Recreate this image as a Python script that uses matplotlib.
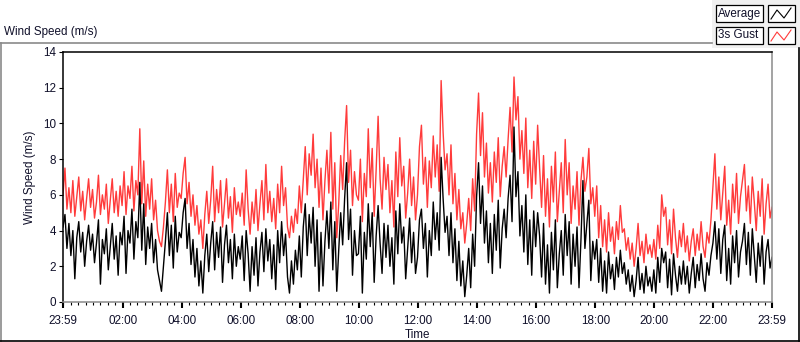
"""
Wind speed chart: 1-minute averages and 3 s gusts over one day (LabVIEW style).
"""

import numpy as np
import matplotlib.pyplot as plt
from matplotlib.patches import Rectangle
from matplotlib.lines import Line2D

plt.rcParams['font.family'] = ['Liberation Sans', 'DejaVu Sans']

# Samples every 4 minutes starting at 23:59, one row per hour
gust = [
    6.0, 7.5, 5.2, 6.4, 5.0, 6.8, 4.8, 5.9, 7.0, 5.1, 6.2, 4.6, 5.8, 6.9, 5.3,
    6.3, 4.7, 5.6, 7.1, 4.9, 6.0, 5.2, 6.6, 4.4, 5.7, 6.9, 5.0, 6.2, 4.8, 6.5,
    5.4, 7.3, 4.9, 6.5, 5.8, 7.6, 5.1, 6.8, 6.0, 9.7, 5.5, 7.9, 4.8, 6.6, 5.2,
    6.9, 4.6, 5.7, 4.0, 3.4, 3.1, 4.2, 5.6, 7.4, 5.0, 6.6, 4.5, 7.2, 5.3, 6.1,
    5.8, 7.2, 8.1, 5.5, 6.7, 4.8, 6.0, 4.3, 5.4, 3.8, 4.6, 3.0, 4.9, 6.2, 4.4,
    5.7, 7.6, 4.5, 6.3, 5.0, 6.8, 4.2, 5.5, 6.9, 4.7, 5.9, 3.9, 6.4, 4.9, 5.6,
    4.8, 6.1, 4.3, 7.4, 5.2, 3.8, 5.6, 4.4, 6.3, 4.0, 5.5, 6.8, 4.6, 7.7, 5.0,
    6.2, 4.5, 5.8, 4.1, 6.6, 5.0, 7.6, 5.4, 6.4, 4.2, 3.6, 4.8, 3.9, 5.2, 4.4,
    6.5, 5.0, 6.9, 8.7, 6.0, 8.3, 7.1, 9.4, 6.4, 8.0, 5.3, 7.5, 4.6, 6.8, 8.5,
    6.1, 9.5, 5.2, 7.8, 3.6, 5.5, 8.2, 6.3, 9.0, 11.0, 6.7, 8.5, 5.4, 7.3, 6.0,
    5.7, 8.0, 4.5, 7.2, 5.9, 9.7, 6.4, 8.6, 4.8, 7.4, 10.4, 6.9, 5.2, 8.1, 6.3,
    7.7, 5.0, 6.8, 4.2, 8.4, 5.9, 9.2, 6.5, 7.6, 4.7, 6.1, 8.0, 5.4, 7.0, 4.6,
    6.0, 8.7, 9.9, 6.6, 8.1, 5.3, 7.9, 6.4, 9.3, 7.0, 8.8, 6.2, 12.4, 9.5, 7.4,
    8.3, 6.0, 8.8, 5.5, 7.2, 4.6, 6.3, 4.1, 5.0, 3.3, 4.4, 5.8, 4.0, 6.9, 5.1,
    9.4, 11.7, 8.2, 10.6, 7.0, 8.9, 6.1, 7.8, 5.6, 8.4, 6.7, 9.2, 5.9, 7.6, 8.7,
    7.0, 9.1, 10.9, 8.4, 12.6, 10.2, 11.5, 8.0, 9.6, 7.2, 10.3, 6.4, 8.5, 5.8, 9.0,
    6.6, 9.9, 7.5, 5.3, 8.2, 4.8, 6.9, 4.2, 7.6, 5.6, 8.4, 4.5, 6.2, 7.8, 5.0,
    9.1, 6.0, 7.8, 4.4, 6.5, 5.2, 7.3, 4.3, 6.8, 8.1, 6.2, 7.0, 8.6, 5.5, 6.4,
    4.8, 6.5, 3.6, 5.4, 3.1, 4.6, 2.8, 5.0, 3.4, 4.2, 2.7, 4.5, 3.5, 5.4, 3.9,
    4.1, 2.9, 3.6, 2.4, 3.3, 2.0, 3.0, 4.4, 2.6, 3.4, 2.2, 3.8, 2.7, 3.2, 2.5,
    3.5, 2.4, 4.3, 3.0, 6.0, 4.8, 5.3, 3.2, 4.6, 2.7, 5.2, 3.6, 2.5, 4.0, 3.1,
    4.4, 2.8, 3.7, 2.3, 3.4, 4.1, 2.6, 3.8, 2.9, 4.5, 3.1, 2.5, 3.9, 3.3, 4.6,
    6.4, 8.3, 5.2, 7.0, 4.6, 6.1, 7.6, 4.3, 5.7, 3.8, 6.6, 5.0, 7.2, 4.4, 5.9,
    6.8, 7.7, 5.1, 6.5, 4.4, 7.0, 5.6, 4.0, 6.2, 4.8, 6.9, 3.8, 5.5, 6.6, 4.7,
    5.3,
]

average = [
    4.2, 4.9, 3.0, 4.4, 2.6, 4.0, 1.3, 3.6, 4.5, 2.8, 3.9, 2.0, 3.4, 4.3, 2.9,
    3.8, 2.2, 3.3, 4.6, 1.0, 3.5, 2.7, 4.1, 1.8, 3.1, 4.4, 2.4, 3.7, 1.5, 3.9,
    3.2, 4.8, 1.6, 4.0, 3.3, 5.2, 2.4, 4.5, 3.6, 6.7, 2.9, 5.5, 2.1, 4.2, 3.0,
    4.4, 2.2, 3.5, 1.8, 1.2, 0.6, 2.0, 3.4, 5.0, 2.6, 4.3, 1.9, 4.8, 2.8, 3.9,
    3.6, 5.0, 5.8, 3.0, 4.4, 2.1, 3.5, 1.4, 3.0, 0.9, 2.3, 0.5, 2.6, 3.8, 1.7,
    3.3, 4.5, 1.8, 3.9, 2.5, 4.2, 1.1, 3.2, 4.3, 2.2, 3.5, 1.3, 3.8, 2.0, 3.1,
    2.4, 3.7, 1.2, 4.0, 2.7, 0.6, 3.1, 1.5, 3.6, 0.9, 2.8, 3.9, 1.7, 4.1, 2.3,
    3.5, 1.3, 3.2, 0.7, 4.0, 2.2, 4.5, 2.6, 3.8, 1.4, 0.5, 2.3, 1.0, 2.9, 1.8,
    3.7, 1.4, 4.2, 5.5, 2.6, 4.9, 3.3, 5.3, 2.0, 4.6, 0.6, 3.9, 0.9, 3.4, 5.1,
    3.0, 5.6, 1.8, 4.5, 0.6, 2.9, 5.0, 3.2, 5.8, 7.8, 3.5, 5.2, 1.5, 4.0, 2.6,
    2.7, 4.8, 0.5, 3.9, 2.4, 5.5, 3.1, 5.0, 1.1, 3.7, 5.4, 3.3, 1.6, 4.4, 2.5,
    4.3, 2.0, 3.6, 1.0, 5.1, 2.7, 5.5, 3.3, 4.2, 1.3, 3.0, 4.7, 2.2, 3.9, 1.6,
    2.5, 4.6, 5.2, 3.0, 4.4, 1.4, 4.0, 2.6, 5.6, 3.5, 5.0, 2.9, 8.1, 5.8, 3.9,
    4.8, 2.6, 5.0, 2.2, 4.1, 1.2, 3.4, 0.9, 2.3, 0.3, 1.5, 3.0, 0.8, 3.8, 2.0,
    5.9, 7.8, 4.4, 6.5, 3.3, 5.1, 2.2, 4.4, 1.6, 4.9, 2.9, 5.7, 1.9, 4.1, 5.2,
    3.6, 5.8, 7.1, 4.5, 9.8, 5.9, 7.3, 3.7, 5.4, 2.8, 6.0, 2.1, 4.6, 1.5, 5.1,
    3.1, 5.0, 3.7, 1.4, 4.4, 1.0, 3.2, 0.5, 3.9, 1.8, 4.6, 0.8, 2.7, 4.0, 1.5,
    4.9, 2.6, 4.5, 1.0, 3.8, 2.0, 4.2, 0.8, 3.5, 6.8, 3.0, 4.4, 5.7, 1.2, 3.4,
    2.4, 3.5, 1.1, 3.0, 0.6, 2.3, 0.5, 2.8, 1.3, 2.1, 0.7, 2.5, 1.4, 2.9, 1.6,
    2.2, 1.0, 1.8, 0.6, 1.5, 0.3, 1.2, 2.5, 0.7, 1.6, 0.5, 2.0, 0.9, 1.4, 0.6,
    1.8, 0.5, 2.5, 1.1, 3.0, 2.2, 2.8, 0.8, 2.4, 0.4, 2.7, 1.5, 0.6, 2.0, 1.0,
    2.3, 1.0, 2.0, 0.5, 1.6, 2.5, 0.8, 2.1, 1.2, 2.7, 1.3, 0.6, 2.2, 1.5, 2.6,
    3.3, 4.5, 2.4, 4.1, 1.6, 3.5, 4.3, 1.2, 3.0, 1.0, 3.7, 2.2, 4.0, 1.4, 2.8,
    3.4, 4.4, 2.1, 3.9, 1.5, 4.1, 2.6, 1.1, 3.3, 2.0, 3.7, 1.0, 2.8, 3.5, 1.9,
    2.5,
]

step_minutes = 4
tick_labels = ['23:59', '02:00', '04:00', '06:00', '08:00', '10:00', '12:00',
               '14:00', '16:00', '18:00', '20:00', '22:00', '23:59']

W, H = 800, 342
RED = '#ff3b3b'
TXT = '#10102a'
FS = 8.4


def fx(x):
    return x / W


def fy(y):
    return 1 - y / H


fig = plt.figure(figsize=(W / 100, H / 100), dpi=100)
fig.patch.set_facecolor('white')

# outer frame lines
fig.add_artist(Line2D([fx(0), fx(712)], [fy(42.5), fy(42.5)], color='#8a8a8a', lw=1.2))
fig.add_artist(Line2D([fx(0.7), fx(0.7)], [fy(42.5), fy(341)], color='#8a8a8a', lw=1.2))
fig.add_artist(Line2D([fx(0), fx(800)], [fy(340.5), fy(340.5)], color='black', lw=1.2))
fig.add_artist(Line2D([fx(799.3), fx(799.3)], [fy(48), fy(341)], color='black', lw=1.2))
fig.add_artist(Rectangle((fx(712), fy(48)), fx(88), 48 / H, facecolor='#f0f0f0',
                         edgecolor='none', zorder=0))

fig.text(fx(4), fy(32), 'Wind Speed (m/s)', fontsize=FS, color=TXT, va='center', ha='left')

# legend
for row, (name, col) in enumerate([('Average', 'black'), ('3s Gust', RED)]):
    y0 = 5 + row * 22
    fig.add_artist(Rectangle((fx(716), fy(y0 + 17)), fx(47), 17 / H, facecolor='white',
                             edgecolor='black', lw=0.9))
    fig.add_artist(Rectangle((fx(768), fy(y0 + 17)), fx(27), 17 / H, facecolor='white',
                             edgecolor='black', lw=0.9))
    fig.text(fx(717.5), fy(y0 + 8.5), name, fontsize=FS, color=TXT, va='center', ha='left')
    zx = [771, 777, 784, 791]
    zy = [y0 + 14, y0 + 5, y0 + 13, y0 + 3]
    fig.add_artist(Line2D([fx(v) for v in zx], [fy(v) for v in zy], color=col, lw=0.8))

ax = fig.add_axes([fx(63), fy(302), fx(772) - fx(63), (302 - 52) / H])

t = np.arange(len(gust)) * step_minutes / 60.0
ax.plot(t, gust, color=RED, lw=1.0)
ax.plot(t, average, color='black', lw=1.0)

ax.set_xlim(0, 24)
ax.set_ylim(0, 14)

major = [0] + [2 * k + 1 / 60 for k in range(1, 12)] + [24]
ax.set_xticks(major)
ax.set_xticklabels(tick_labels)
ax.set_xticks([0.25 * k + 1 / 60 for k in range(96)], minor=True)
ax.set_yticks(range(0, 15, 2))

ax.tick_params(axis='x', which='major', direction='out', length=4, width=1.5,
               labelsize=FS, labelcolor=TXT, pad=5)
ax.tick_params(axis='x', which='minor', direction='out', length=2.5, width=0.8)
ax.tick_params(axis='y', direction='out', length=3, width=0.8, labelsize=FS,
               labelcolor=TXT, pad=2)

for side in ['top', 'left']:
    ax.spines[side].set_color('black')
    ax.spines[side].set_linewidth(1.1)
for side in ['right', 'bottom']:
    ax.spines[side].set_color('#8a8a8a')
    ax.spines[side].set_linewidth(1.1)

ax.set_ylabel('Wind Speed (m/s)', fontsize=FS, color=TXT, labelpad=5)
ax.set_xlabel('Time', fontsize=FS, color=TXT, labelpad=2)

fig.savefig('out.png', dpi=100)
